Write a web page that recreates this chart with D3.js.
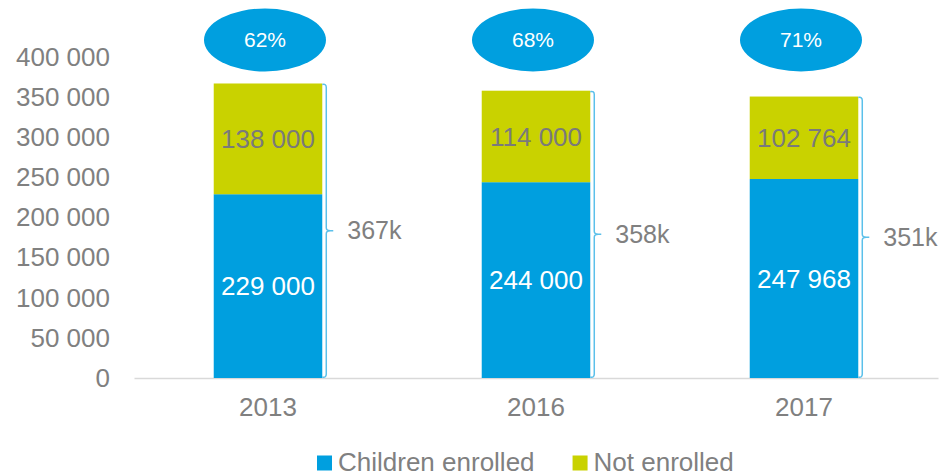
<!DOCTYPE html>
<html>
<head>
<meta charset="utf-8">
<script src="https://cdn.jsdelivr.net/npm/d3@7/dist/d3.min.js"></script>
<style>
  html, body { margin: 0; padding: 0; background: #fff; }
  svg { display: block; font-family: "Liberation Sans", Arial, sans-serif; }
</style>
</head>
<body>
<svg id="chart" width="941" height="476"></svg>
<script>
// Enrolment of children by year
const years = ["2013", "2016", "2017"];
const enrolled = [229000, 244000, 247968];
const notEnrolled = [138000, 114000, 102764];
const totalLabels = ["367k", "358k", "351k"];
const shareLabels = ["62%", "68%", "71%"];
const yTicks = [0, 50000, 100000, 150000, 200000, 250000, 300000, 350000, 400000];
const seriesNames = ["Children enrolled", "Not enrolled"];

const BLUE = "#009fdf";
const LIME = "#c9d200";
const GREY = "#808080";
const BRACE = "#5bc0ea";

const svg = d3.select("#chart");
const margin = { left: 134, right: 3, top: 57, bottom: 98 };
const W = 941, H = 476;

const x = d3.scaleBand().domain(years).range([margin.left, W - margin.right]).paddingInner(0).paddingOuter(0);
const y = d3.scaleLinear().domain([0, 400000]).range([H - margin.bottom, margin.top]);

const fmt = v => d3.format(",")(v).replace(/,/g, " ");
const barW = x.bandwidth() * 0.405;

// y axis labels
const yAxis = d3.axisLeft(y).tickValues(yTicks).tickFormat(fmt).tickSize(0).tickPadding(0);
const gy = svg.append("g").attr("transform", `translate(110,0)`).call(yAxis);
gy.select(".domain").remove();
gy.selectAll("text").attr("font-size", 26).attr("fill", GREY)
  .attr("font-family", "Liberation Sans, Arial, sans-serif");

// baseline
const xAxis = d3.axisBottom(x).tickSize(0).tickPadding(20);
const gx = svg.append("g").attr("transform", `translate(0,${y(0)})`).call(xAxis);
gx.select(".domain").attr("stroke", "#d9d9d9").attr("stroke-width", 1.5);
gx.selectAll("text").attr("font-size", 26).attr("fill", GREY)
  .attr("font-family", "Liberation Sans, Arial, sans-serif");

const rows = years.map((yr, i) => ({
  yr, a: enrolled[i], b: notEnrolled[i], total: totalLabels[i], share: shareLabels[i]
}));

const g = svg.append("g");
rows.forEach(d => {
  const cx = x(d.yr) + x.bandwidth() / 2;
  const x0 = cx - barW / 2;
  // stacked segments
  g.append("rect").attr("x", x0).attr("width", barW)
    .attr("y", y(d.a)).attr("height", y(0) - y(d.a)).attr("fill", BLUE);
  g.append("rect").attr("x", x0).attr("width", barW)
    .attr("y", y(d.a + d.b)).attr("height", y(d.a) - y(d.a + d.b)).attr("fill", LIME);

  // segment value labels
  g.append("text").attr("x", cx).attr("y", y(d.a / 2)).attr("dy", "0.35em")
    .attr("text-anchor", "middle").attr("font-size", 26).attr("fill", "#fff").text(fmt(d.a));
  g.append("text").attr("x", cx).attr("y", y(d.a + d.b / 2)).attr("dy", "0.35em")
    .attr("text-anchor", "middle").attr("font-size", 26).attr("fill", "#7a7a7a").text(fmt(d.b));

  // brace on the right of the bar
  const bx = x0 + barW + 4;
  const top = y(d.a + d.b), bot = y(0), mid = (top + bot) / 2;
  const path = d3.path();
  path.moveTo(bx - 4, top + 1);
  path.quadraticCurveTo(bx, top, bx, top + 4);
  path.lineTo(bx, mid - 3);
  path.quadraticCurveTo(bx, mid, bx + 4, mid);
  path.lineTo(bx + 7, mid);
  path.moveTo(bx + 4, mid);
  path.quadraticCurveTo(bx, mid, bx, mid + 3);
  path.lineTo(bx, bot - 4);
  path.quadraticCurveTo(bx, bot, bx - 4, bot - 1);
  g.append("path").attr("d", path.toString()).attr("fill", "none")
    .attr("stroke", BRACE).attr("stroke-width", 1.5);
  g.append("text").attr("x", bx + 21).attr("y", mid).attr("dy", "0.35em")
    .attr("font-size", 25).attr("fill", GREY).text(d.total);

  // share bubble
  g.append("ellipse").attr("cx", cx - 3).attr("cy", 40).attr("rx", 61).attr("ry", 31.5).attr("fill", BLUE);
  g.append("text").attr("x", cx - 3).attr("y", 40).attr("dy", "0.35em")
    .attr("text-anchor", "middle").attr("font-size", 21).attr("fill", "#fff").text(d.share);
});

// legend
const legend = svg.append("g").attr("transform", "translate(317,462)");
const colors = [BLUE, LIME];
let lx = 0;
seriesNames.forEach((name, i) => {
  const item = legend.append("g").attr("transform", `translate(${lx},0)`);
  item.append("rect").attr("x", 0).attr("y", -6.5).attr("width", 15).attr("height", 15).attr("fill", colors[i]);
  const t = item.append("text").attr("x", 21).attr("y", 0).attr("dy", "0.35em")
    .attr("font-size", 26).attr("fill", GREY).text(name);
  lx += 21 + t.node().getComputedTextLength() + 38;
});
</script>
</body>
</html>
